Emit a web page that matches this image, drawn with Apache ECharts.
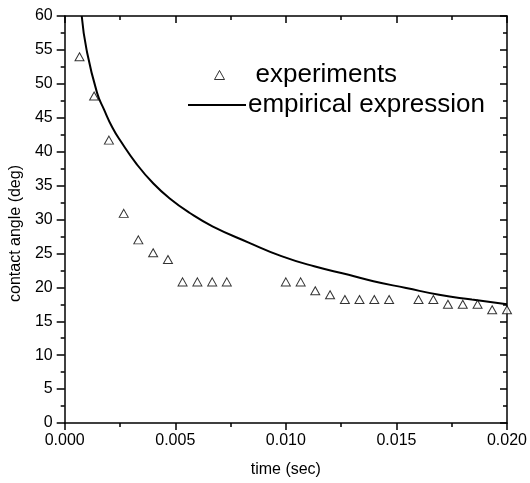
<!DOCTYPE html>
<html>
<head>
<meta charset="utf-8">
<script src="https://cdn.jsdelivr.net/npm/echarts@6/dist/echarts.min.js"></script>
<style>html,body{margin:0;padding:0;background:#fff}#c{width:530px;height:483px}</style>
</head>
<body>
<div id="c"></div>
<script>
// experiments (triangles)
const expTime = [0.00067,0.00133,0.002,0.00267,0.00333,0.004,0.00467,0.00533,0.006,0.00667,0.00733,
  0.01,0.01067,0.01133,0.012,0.01267,0.01333,0.014,0.01467,0.016,0.01667,0.01733,0.018,0.01867,0.01933,0.02];
const expAngle = [54.0,48.2,41.7,30.9,27.0,25.1,24.1,20.8,20.8,20.8,20.8,
  20.8,20.8,19.5,18.9,18.2,18.2,18.2,18.2,18.2,18.2,17.5,17.5,17.5,16.7,16.7];
// empirical expression (curve)
const curveTime = [0.00077,0.00099,0.00146,0.00178,0.00215,0.00252,0.00327,0.00401,0.00475,0.00564,
  0.00668,0.00832,0.0098,0.01128,0.01284,0.01396,0.01544,0.01693,0.01841,0.02];
const curveAngle = [60,55.0,48.7,46.2,43.6,41.6,38.1,35.3,33.1,31.0,
  29.0,26.6,24.6,23.1,21.85,20.9,19.9,18.9,18.2,17.5];
const seriesNames = ['experiments','empirical expression'];
const xTitle = 'time (sec)';
const yTitle = 'contact angle (deg)';

const FONT = 'Liberation Sans';
const chart = echarts.init(document.getElementById('c'), null, {renderer:'canvas'});
const axisLine = {show:true, onZero:false, lineStyle:{color:'#000', width:1.5}};
const xBase = {type:'value', min:0, max:0.02, interval:0.005, splitLine:{show:false}, axisLine: axisLine};
const yBase = {type:'value', min:0, max:60, interval:5, splitLine:{show:false}, axisLine: axisLine};
chart.setOption({
  animation:false,
  backgroundColor:'#fff',
  grid:{left:60, right:21, top:16, bottom:57, containLabel:false},
  legend:[
    {data:[seriesNames[0]], left:214, top:62, padding:0, orient:'vertical',
     icon:'triangle', itemWidth:10, itemHeight:9,
     itemStyle:{color:'#fff', borderColor:'#000', borderWidth:1},
     textStyle:{fontFamily:FONT, fontSize:26, color:'#000', lineHeight:26, padding:[0,0,0,26]}},
    {data:[seriesNames[1]], left:188, top:92, padding:0, orient:'vertical',
     icon:'rect', itemWidth:58, itemHeight:2,
     itemStyle:{color:'#000', borderWidth:0},
     textStyle:{fontFamily:FONT, fontSize:26, color:'#000', lineHeight:26, padding:[0,0,0,-3]}}
  ],
  xAxis:[
    Object.assign({}, xBase, {position:'bottom', name:xTitle, nameLocation:'middle', nameGap:39,
      nameTextStyle:{fontFamily:FONT, fontSize:16, color:'#000'},
      axisTick:{show:true, inside:false, length:7, lineStyle:{color:'#000', width:1.5}},
      minorTick:{show:true, splitNumber:2, length:4, lineStyle:{color:'#000', width:1.5}},
      axisLabel:{fontFamily:FONT, fontSize:16, color:'#000', margin:10,
        formatter: v => v.toFixed(3)}}),
    Object.assign({}, xBase, {position:'top',
      axisTick:{show:true, inside:true, length:7, lineStyle:{color:'#000', width:1.5}},
      minorTick:{show:true, splitNumber:2, length:4, lineStyle:{color:'#000', width:1.5}},
      axisLabel:{show:false}})
  ],
  yAxis:[
    Object.assign({}, yBase, {position:'left', name:yTitle, nameLocation:'middle', nameGap:36,
      nameTextStyle:{fontFamily:FONT, fontSize:16, color:'#000', padding:[0,28,0,0]},
      axisTick:{show:true, inside:false, length:8, lineStyle:{color:'#000', width:1.5}},
      minorTick:{show:true, splitNumber:2, length:4, lineStyle:{color:'#000', width:1.5}},
      axisLabel:{fontFamily:FONT, fontSize:16, color:'#000', margin:12}}),
    Object.assign({}, yBase, {position:'right',
      axisTick:{show:true, inside:true, length:7, lineStyle:{color:'#000', width:1.5}},
      minorTick:{show:true, splitNumber:2, length:4, lineStyle:{color:'#000', width:1.5}},
      axisLabel:{show:false}})
  ],
  series:[
    {name:seriesNames[0], type:'scatter', xAxisIndex:0, yAxisIndex:0,
     symbol:'triangle', symbolSize:[9,8],
     itemStyle:{color:'#fff', borderColor:'#000', borderWidth:1},
     data: expTime.map((t,i)=>[t, expAngle[i]]), z:3},
    {name:seriesNames[1], type:'line', xAxisIndex:0, yAxisIndex:0,
     symbol:'none', showSymbol:false, smooth:0.5, clip:true,
     lineStyle:{color:'#000', width:2},
     data: curveTime.map((t,i)=>[t, curveAngle[i]]), z:2}
  ]
});
</script>
</body>
</html>
